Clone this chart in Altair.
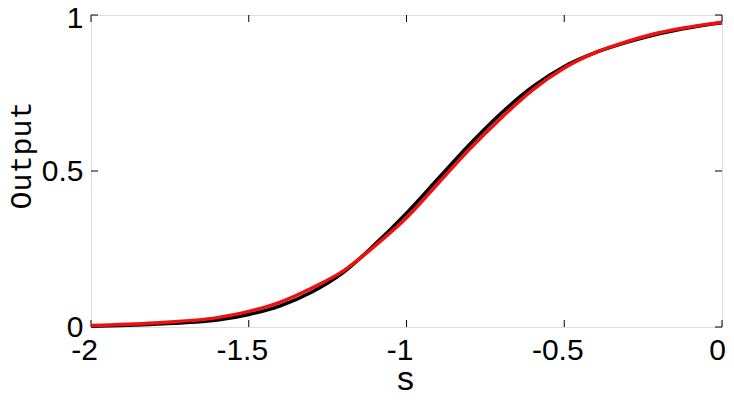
import altair as alt
import pandas as pd

s_vals = [-2.0, -1.8, -1.6, -1.5, -1.4, -1.3, -1.2, -1.1, -1.0, -0.9, -0.8,
          -0.7, -0.6, -0.5, -0.4, -0.3, -0.2, -0.1, 0.0]
red_out = [0.005, 0.013, 0.03, 0.05, 0.08, 0.125, 0.18, 0.26, 0.35, 0.46, 0.57,
           0.67, 0.76, 0.83, 0.88, 0.915, 0.943, 0.962, 0.977]
black_out = [0.003, 0.009, 0.022, 0.04, 0.068, 0.112, 0.175, 0.265, 0.365, 0.475, 0.585,
             0.685, 0.77, 0.835, 0.88, 0.913, 0.94, 0.96, 0.975]
x_ticks = [-2, -1.5, -1, -0.5, 0]
y_ticks = [0, 0.5, 1]

W, H = 631, 312

df_red = pd.DataFrame({"s": s_vals, "out": red_out})
df_black = pd.DataFrame({"s": s_vals, "out": black_out})
df_xt = pd.DataFrame({"t": x_ticks})
df_yt = pd.DataFrame({"t": y_ticks})

xscale = alt.Scale(domain=[-2, 0], nice=False, zero=False)
yscale = alt.Scale(domain=[0, 1], nice=False, zero=False)

xaxis = alt.Axis(values=x_ticks, title="s", grid=False, domain=False, ticks=False, tickSize=0,
                 labelFont="Liberation Sans", labelFontSize=30, labelColor="black",
                 labelPadding=8, labelFlush=False, labelOverlap=False, labelBound=False,
                 labelExpr="toString(datum.value)",
                 labelOffset={"condition": {"test": "datum.value < 0", "value": -7}, "value": -5},
                 titleFont="Liberation Sans", titleFontSize=34, titleFontWeight="normal",
                 titleColor="black", titleX=314, titleY=62, titleBaseline="alphabetic",
                 titleAlign="center")
yaxis = alt.Axis(values=y_ticks, title="Output", grid=False, domain=False, ticks=False, tickSize=0,
                 labelFont="Liberation Sans", labelFontSize=30, labelColor="black",
                 labelPadding=8, labelFlush=False, labelOverlap=False, labelBound=False,
                 labelExpr="toString(datum.value)",
                 labelOffset={"condition": {"test": "datum.value == 1", "value": 3}, "value": 0},
                 titleFont="Liberation Mono", titleFontSize=30, titleFontWeight="normal",
                 titleColor="black", titleX=-70, titleY=140, titleAngle=-90,
                 titleBaseline="middle", titleAlign="center")

black = alt.Chart(df_black).mark_line(color="black", strokeWidth=3.5, interpolate="monotone").encode(
    x=alt.X("s:Q", scale=xscale, axis=xaxis),
    y=alt.Y("out:Q", scale=yscale, axis=yaxis),
)
red = alt.Chart(df_red).mark_line(color="#f01010", strokeWidth=3.5, interpolate="monotone").encode(
    x=alt.X("s:Q", scale=xscale),
    y=alt.Y("out:Q", scale=yscale),
)

xt_bottom = alt.Chart(df_xt).mark_rule(color="black", strokeWidth=1).encode(
    x=alt.X("t:Q", scale=xscale), y=alt.value(H), y2=alt.value(H - 7))
xt_top = alt.Chart(df_xt).mark_rule(color="black", strokeWidth=1).encode(
    x=alt.X("t:Q", scale=xscale), y=alt.value(0), y2=alt.value(7))
yt_left = alt.Chart(df_yt).mark_rule(color="black", strokeWidth=1).encode(
    y=alt.Y("t:Q", scale=yscale), x=alt.value(0), x2=alt.value(7))
yt_right = alt.Chart(df_yt).mark_rule(color="black", strokeWidth=1).encode(
    y=alt.Y("t:Q", scale=yscale), x=alt.value(W), x2=alt.value(W - 7))

chart = alt.layer(xt_bottom, xt_top, yt_left, yt_right, black, red).properties(
    width=W, height=H,
    autosize=alt.AutoSizeParams(type="none"),
    padding={"left": 83, "top": 7, "right": 4, "bottom": 64},
).configure_view(stroke="black", strokeWidth=1.2).configure(background="white")

chart.save("out.html", embed_options={"renderer": "svg", "actions": False})
